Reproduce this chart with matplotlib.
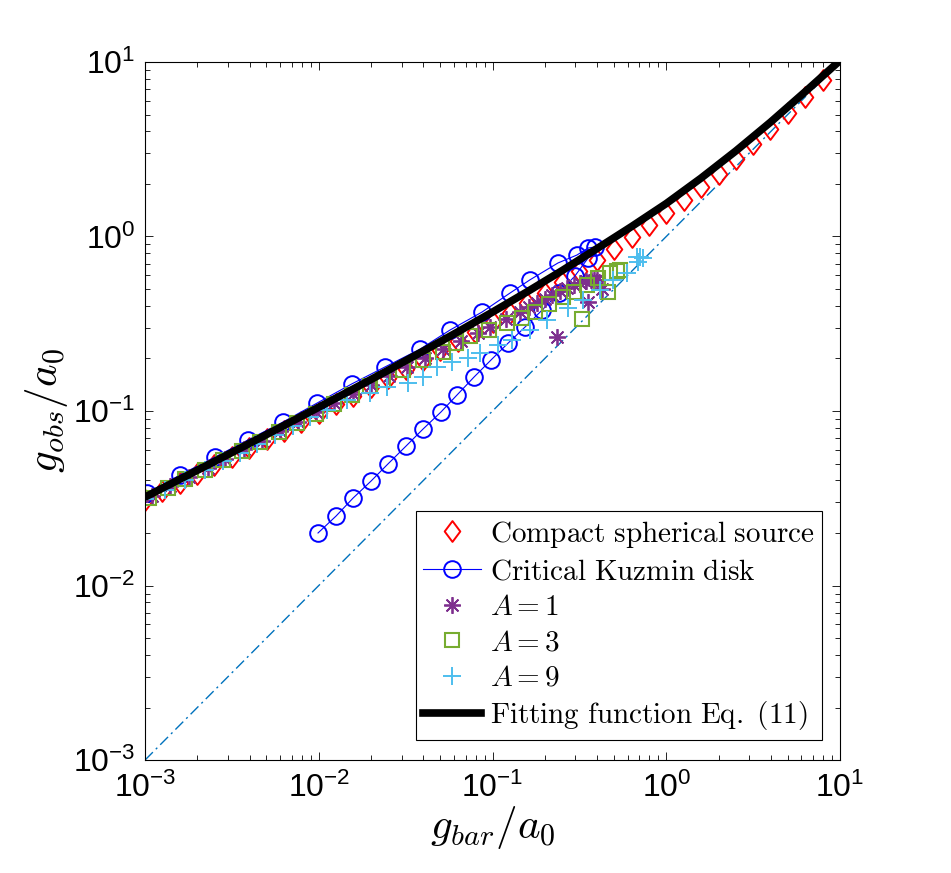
import matplotlib
matplotlib.use("Agg")
import matplotlib.pyplot as plt
from matplotlib.font_manager import FontProperties
from matplotlib.path import Path
import numpy as np

plt.rcParams['font.family'] = ['Liberation Sans', 'DejaVu Sans']
plt.rcParams['mathtext.fontset'] = 'custom'
plt.rcParams['mathtext.rm'] = 'Liberation Sans'
plt.rcParams['mathtext.it'] = 'Liberation Sans:italic'
plt.rcParams['mathtext.bf'] = 'Liberation Sans:bold'

# Compact spherical source
sph_x = [0.001, 0.00126, 0.00158, 0.002, 0.00251, 0.00316, 0.00398, 0.00501, 0.00631, 0.00794,
         0.01, 0.0126, 0.0158, 0.02, 0.0251, 0.0316, 0.0398, 0.0501, 0.0631, 0.0794,
         0.1, 0.126, 0.158, 0.2, 0.251, 0.316, 0.398, 0.501, 0.631, 0.794,
         1.0, 1.26, 1.58, 2.0, 2.51, 3.16, 3.98, 5.01, 6.31, 7.94]
sph_y = [0.0308, 0.0347, 0.0388, 0.0434, 0.0488, 0.0546, 0.0612, 0.0689, 0.0773, 0.0866,
         0.0972, 0.1092, 0.1226, 0.1378, 0.1550, 0.1747, 0.1970, 0.2224, 0.2514, 0.2846,
         0.3228, 0.3667, 0.4174, 0.4764, 0.5480, 0.6323, 0.7317, 0.8495, 0.9901, 1.158,
         1.361, 1.615, 1.914, 2.294, 2.764, 3.367, 4.124, 5.076, 6.283, 7.856]

# Critical Kuzmin disk (outer branch, then inner branch)
kuz_x = [0.00103, 0.00159, 0.00253, 0.00392, 0.00623, 0.00977, 0.0155, 0.0241, 0.0382, 0.0569,
         0.0870, 0.126, 0.164, 0.238, 0.306, 0.355, 0.389,
         0.355, 0.298, 0.241, 0.193, 0.154, 0.123, 0.098, 0.0783, 0.0625, 0.0505,
         0.0398, 0.0318, 0.0250, 0.0200, 0.01575, 0.01257, 0.0099]
kuz_y = [0.0339, 0.0430, 0.0545, 0.0683, 0.0865, 0.111, 0.143, 0.179, 0.226, 0.291,
         0.369, 0.474, 0.564, 0.705, 0.783, 0.859, 0.871,
         0.753, 0.594, 0.474, 0.379, 0.303, 0.245, 0.196, 0.1566, 0.1236, 0.0987,
         0.0788, 0.0630, 0.0497, 0.0397, 0.0317, 0.0250, 0.0200]

# A = 1
a1_x = [0.0011, 0.0014, 0.0018, 0.0023, 0.0029, 0.0037, 0.0047, 0.006, 0.0076, 0.0097,
        0.0123, 0.0157, 0.02, 0.0254, 0.0323, 0.041, 0.052, 0.066, 0.082, 0.0968,
        0.120, 0.144, 0.162, 0.180, 0.200, 0.220, 0.245, 0.268, 0.295, 0.319,
        0.345, 0.368, 0.385, 0.398, 0.425, 0.355, 0.235]
a1_y = [0.0327, 0.0370, 0.0418, 0.0474, 0.0531, 0.0602, 0.0677, 0.0769, 0.0865, 0.0982,
        0.1108, 0.1253, 0.1410, 0.1595, 0.1796, 0.2024, 0.2270, 0.2534, 0.2816, 0.304,
        0.338, 0.369, 0.394, 0.416, 0.441, 0.464, 0.486, 0.507, 0.528, 0.543,
        0.559, 0.566, 0.566, 0.562, 0.50, 0.421, 0.266]

# A = 3
a3_x = [0.00105, 0.00135, 0.0017, 0.0022, 0.0028, 0.0036, 0.0046, 0.0059, 0.0075, 0.0096,
        0.0122, 0.0155, 0.0197, 0.0234, 0.0305, 0.0398, 0.0519, 0.062, 0.0743, 0.095,
        0.121, 0.148, 0.176, 0.211, 0.255, 0.294, 0.350, 0.405, 0.475, 0.520,
        0.542, 0.462, 0.327]
a3_y = [0.0319, 0.0363, 0.0406, 0.0461, 0.0522, 0.0590, 0.0666, 0.0758, 0.0854, 0.0967,
        0.1091, 0.1231, 0.1385, 0.151, 0.172, 0.196, 0.218, 0.245, 0.270, 0.290,
        0.319, 0.343, 0.369, 0.410, 0.450, 0.481, 0.527, 0.578, 0.618, 0.634,
        0.643, 0.481, 0.337]

# A = 9
a9_x = [0.001, 0.0013, 0.0017, 0.0022, 0.0028, 0.0035, 0.0044, 0.0056, 0.0071, 0.0089,
        0.01115, 0.01455, 0.0197, 0.0247, 0.0326, 0.0398, 0.0479, 0.0585, 0.0723, 0.0847,
        0.108, 0.1295, 0.1643, 0.206, 0.272, 0.332, 0.416, 0.494, 0.594, 0.688,
        0.735, 0.71, 0.68]
a9_y = [0.0312, 0.0354, 0.0404, 0.0458, 0.0516, 0.0576, 0.0644, 0.0726, 0.0817, 0.0925,
        0.1014, 0.1156, 0.127, 0.137, 0.1445, 0.1567, 0.1787, 0.191, 0.2013, 0.215,
        0.239, 0.2553, 0.2911, 0.332, 0.389, 0.4325, 0.494, 0.564, 0.618, 0.714,
        0.753, 0.765, 0.76]

# Fitting function Eq. (11)
fit_x = [0.001, 0.001585, 0.002512, 0.003981, 0.00631, 0.01, 0.01585, 0.02512, 0.03981, 0.0631,
         0.1, 0.1585, 0.2512, 0.3981, 0.631, 1.0, 1.585, 2.512, 3.981, 6.31, 10.0]
fit_y = [0.03212, 0.04061, 0.05139, 0.06510, 0.08263, 0.1051, 0.1340, 0.1713, 0.2201, 0.2841,
         0.3689, 0.4826, 0.6372, 0.8508, 1.140, 1.545, 2.160, 3.090, 4.520, 6.760, 10.20]

one_x = [0.001, 10.0]
one_y = [0.001, 10.0]

# tall diamond like the matlab one
diamond = Path([(0, 1), (0.75, 0), (0, -1), (-0.75, 0), (0, 1)], closed=True)

fig = plt.figure(figsize=(9.51, 8.73), dpi=100)
ax = fig.add_axes([0.1525, 0.1294, 0.7308, 0.7996])

ax.plot(one_x, one_y, color=(0, 0.447, 0.741), lw=1.0, dashes=(8, 3, 1.5, 3))
ax.plot(sph_x, sph_y, ls='none', marker=diamond, ms=15, mfc='none', mec='r', mew=1.4,
        label=r'$\mathrm{Compact\ spherical\ source}$')
ax.plot(kuz_x, kuz_y, '-', color='b', lw=0.8, marker='o', ms=12, mfc='none', mec='b', mew=1.4,
        label=r'$\mathrm{Critical\ Kuzmin\ disk}$')
ax.plot(a1_x, a1_y, ls='none', marker=(8, 2, 0), ms=12, mec=(0.494, 0.184, 0.556), mew=1.3,
        label=r'$A=1$')
ax.plot(a3_x, a3_y, ls='none', marker='s', ms=9.5, mfc='none', mec=(0.466, 0.674, 0.188), mew=1.5,
        label=r'$A=3$')
ax.plot(a9_x, a9_y, ls='none', marker='+', ms=12.5, mec=(0.301, 0.745, 0.933), mew=1.4,
        label=r'$A=9$')
ax.plot(fit_x, fit_y, '-', color='k', lw=5.5,
        label=r'$\mathrm{Fitting\ function\ Eq.\ (11)}$')

ax.set_xscale('log')
ax.set_yscale('log')
ax.set_xlim(1e-3, 1e1)
ax.set_ylim(1e-3, 1e1)

ax.tick_params(which='both', direction='in', top=True, right=True, width=0.6, labelsize=23)
ax.tick_params(which='major', length=6)
ax.tick_params(which='minor', length=3.5)
ax.tick_params(axis='x', pad=9)
ax.tick_params(axis='y', pad=7)
for sp in ax.spines.values():
    sp.set_linewidth(0.8)

ax.set_xlabel(r'$g_{bar}/a_0$', fontsize=31, math_fontfamily='cm', labelpad=0)
ax.set_ylabel(r'$g_{obs}/a_0$', fontsize=31, math_fontfamily='cm', labelpad=2)

leg = ax.legend(loc='lower right', bbox_to_anchor=(0.974, 0.029), borderaxespad=0,
                prop=FontProperties(size=21, math_fontfamily='cm'),
                fancybox=False, framealpha=1, edgecolor='k', handlelength=2.0,
                handletextpad=0.3, labelspacing=0.26, borderpad=0.25)
leg.get_frame().set_linewidth(0.8)

fig.savefig('out.png', dpi=100)
